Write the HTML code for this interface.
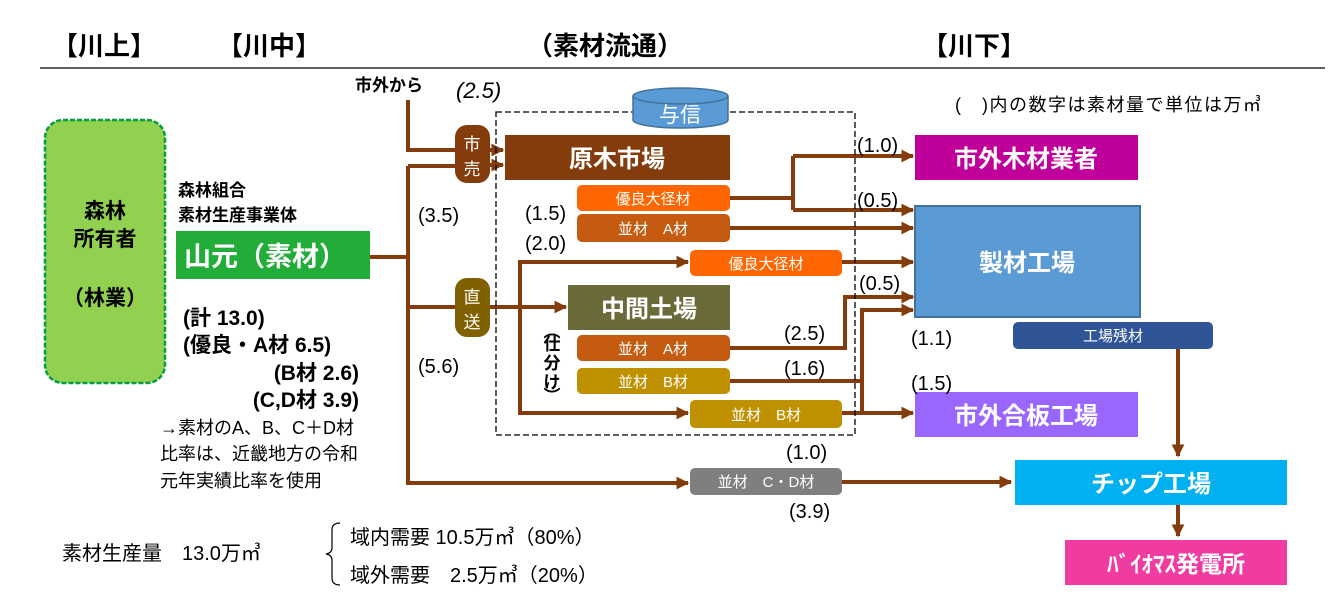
<!DOCTYPE html>
<html><head><meta charset="utf-8"><style>
html,body{margin:0;padding:0;background:#fff;}
svg{display:block;font-family:"Liberation Sans","Noto Sans CJK JP",sans-serif;}
.b{font-weight:bold;}
</style></head><body>
<svg width="1340" height="611" viewBox="0 0 1340 611" xmlns="http://www.w3.org/2000/svg">
<defs>
<marker id="ar" viewBox="0 0 10 10" refX="9" refY="5" markerWidth="3.2" markerHeight="3.2" orient="auto"><path d="M0,0 L10,5 L0,10 z" fill="#843c0c"/></marker>
</defs>
<g class="b" font-size="26" fill="#000">
<text x="52" y="55">【川上】</text>
<text x="217" y="55">【川中】</text>
<text x="527" y="55">（素材流通）</text>
<text x="922" y="55">【川下】</text>
</g>
<line x1="40" y1="68" x2="1325" y2="68" stroke="#000" stroke-width="1.3"/>
<text x="355" y="91" font-size="17" class="b">市外から</text>
<text x="456" y="98" font-size="22" font-style="italic">(2.5)</text>
<text x="955" y="111" font-size="18" letter-spacing="1.5">(　)内の数字は素材量で単位は万㎥</text>

<rect x="45" y="120" width="120" height="263" rx="18" fill="#92d050" stroke="#00a040" stroke-width="2.5" stroke-dasharray="5,2"/>
<g class="b" font-size="21" text-anchor="middle"><text x="105" y="218">森林</text><text x="105" y="246">所有者</text><text x="105" y="305">（林業）</text></g>

<text x="178" y="196" font-size="17" class="b">森林組合</text>
<text x="178" y="221" font-size="17" class="b">素材生産事業体</text>
<rect x="176" y="231" width="194" height="48" fill="#22ac38"/>
<text x="184" y="266" font-size="27" fill="#fff" class="b">山元（素材）</text>
<g class="b" font-size="21">
<text x="183" y="325">(計 13.0)</text>
<text x="183" y="352">(優良・A材 6.5)</text>
<text x="359" y="380" text-anchor="end">(B材 2.6)</text>
<text x="359" y="407" text-anchor="end">(C,D材 3.9)</text>
</g>
<g font-size="18"><text x="160" y="434">→素材のA、B、C＋D材</text><text x="160" y="460">比率は、近畿地方の令和</text><text x="160" y="487">元年実績比率を使用</text></g>

<g stroke="#843c0c" stroke-width="4" fill="none">
<path d="M370,257 H408"/>
<path d="M408,100 V150 H455"/>
<path d="M408,166 V483 H688" marker-end="url(#ar)"/>
<path d="M408,166 H455"/>
<path d="M408,307 H455"/>
<path d="M490,150 H503" marker-end="url(#ar)"/>
<path d="M490,165 H503" marker-end="url(#ar)"/>
<path d="M490,307 H566" marker-end="url(#ar)"/>
<path d="M520,307 V262 H688" marker-end="url(#ar)"/>
<path d="M520,307 V413 H688" marker-end="url(#ar)"/>
<path d="M730,198 H793"/>
<path d="M793,156 V210"/>
<path d="M793,156 H913" marker-end="url(#ar)"/>
<path d="M793,210 H913" marker-end="url(#ar)"/>
<path d="M730,228 H913" marker-end="url(#ar)"/>
<path d="M842,262 H913" marker-end="url(#ar)"/>
<path d="M730,348 H845 V297 H913" marker-end="url(#ar)"/>
<path d="M730,381 H862"/>
<path d="M862,413 V310 H913" marker-end="url(#ar)"/>
<path d="M842,413 H913" marker-end="url(#ar)"/>
<path d="M842,482 H1011" marker-end="url(#ar)"/>
<path d="M1178,349 V456" marker-end="url(#ar)"/>
<path d="M1178,505 V536" marker-end="url(#ar)"/>
</g>

<rect x="496" y="112" width="359" height="323" fill="none" stroke="#000" stroke-width="1.3" stroke-dasharray="6,3"/>
<path d="M633,96 V120 A47.5,8 0 0 0 728,120 V96" fill="#5b9bd5" stroke="#41719c" stroke-width="1.5"/>
<ellipse cx="680.5" cy="96" rx="47.5" ry="8" fill="#5b9bd5" stroke="#41719c" stroke-width="1.5"/>
<text x="680" y="122" font-size="21" fill="#fff" text-anchor="middle">与信</text>

<rect x="455" y="125" width="35" height="58" rx="12" fill="#843c0c"/>
<text x="472" y="150" font-size="17" fill="#fff" text-anchor="middle">市</text>
<text x="472" y="175" font-size="17" fill="#fff" text-anchor="middle">売</text>
<rect x="455" y="278" width="35" height="59" rx="12" fill="#806000"/>
<text x="472" y="303" font-size="17" fill="#fff" text-anchor="middle">直</text>
<text x="472" y="328" font-size="17" fill="#fff" text-anchor="middle">送</text>

<rect x="505" y="135" width="225" height="45" fill="#843c0c"/>
<text x="617" y="167" font-size="24" fill="#fff" text-anchor="middle" class="b">原木市場</text>
<rect x="568" y="285" width="162" height="45" fill="#6b6b3a"/>
<text x="649" y="317" font-size="24" fill="#fff" text-anchor="middle" class="b">中間土場</text>

<g font-size="15" fill="#fff" text-anchor="middle">
<rect x="577" y="185" width="153" height="26" rx="5" fill="#ff6600"/><text x="653" y="204">優良大径材</text>
<rect x="577" y="214" width="153" height="28" rx="5" fill="#c55a11"/><text x="653" y="234">並材　A材</text>
<rect x="690" y="250" width="152" height="26" rx="5" fill="#ff6600"/><text x="766" y="269">優良大径材</text>
<rect x="577" y="335" width="153" height="26" rx="5" fill="#c55a11"/><text x="653" y="354">並材　A材</text>
<rect x="577" y="368" width="153" height="26" rx="5" fill="#bf9000"/><text x="653" y="387">並材　B材</text>
<rect x="690" y="400" width="152" height="28" rx="5" fill="#bf9000"/><text x="766" y="420">並材　B材</text>
<rect x="690" y="468" width="152" height="27" rx="5" fill="#7f7f7f"/><text x="766" y="487">並材　C・D材</text>
</g>
<g font-size="17" class="b" text-anchor="middle"><text x="552" y="337">︵</text><text x="552" y="350">仕</text><text x="552" y="369">分</text><text x="552" y="388">け</text><text x="552" y="402">︶</text></g>

<rect x="915" y="135" width="223" height="45" fill="#c0009a"/>
<text x="1026" y="167" font-size="24" fill="#fff" text-anchor="middle" class="b">市外木材業者</text>
<rect x="915" y="206" width="225" height="111" fill="#5b9bd5" stroke="#41719c" stroke-width="2"/>
<text x="1027" y="271" font-size="24" fill="#fff" text-anchor="middle" class="b">製材工場</text>
<rect x="915" y="392" width="223" height="45" fill="#9966ff"/>
<text x="1026" y="424" font-size="24" fill="#fff" text-anchor="middle" class="b">市外合板工場</text>
<rect x="1013" y="322" width="200" height="27" rx="5" fill="#2f5597"/>
<text x="1113" y="341" font-size="15" fill="#fff" text-anchor="middle">工場残材</text>
<rect x="1015" y="460" width="272" height="45" fill="#00b0f0"/>
<text x="1151" y="492" font-size="24" fill="#fff" text-anchor="middle" class="b">チップ工場</text>
<rect x="1065" y="540" width="222" height="45" fill="#f03ca0"/>
<text x="1176" y="572" font-size="23" fill="#fff" text-anchor="middle" class="b">ﾊﾞｲｵﾏｽ発電所</text>

<g font-size="20">
<text x="418" y="222">(3.5)</text>
<text x="418" y="373">(5.6)</text>
<text x="525" y="220">(1.5)</text>
<text x="525" y="250">(2.0)</text>
<text x="857" y="152">(1.0)</text>
<text x="857" y="207">(0.5)</text>
<text x="859" y="290">(0.5)</text>
<text x="784" y="340">(2.5)</text>
<text x="784" y="375">(1.6)</text>
<text x="911" y="345">(1.1)</text>
<text x="911" y="390">(1.5)</text>
<text x="786" y="459">(1.0)</text>
<text x="789" y="518">(3.9)</text>
</g>

<text x="62" y="560" font-size="20">素材生産量　13.0万㎥</text>
<path d="M340,523 Q332,523 332,530 V548 Q332,553 326,554 Q332,555 332,560 V578 Q332,585 340,585" fill="none" stroke="#000" stroke-width="1.2"/>
<text x="350" y="544" font-size="20">域内需要 10.5万㎥（80%）</text>
<text x="350" y="582" font-size="20">域外需要　2.5万㎥（20%）</text>
</svg>
</body></html>
